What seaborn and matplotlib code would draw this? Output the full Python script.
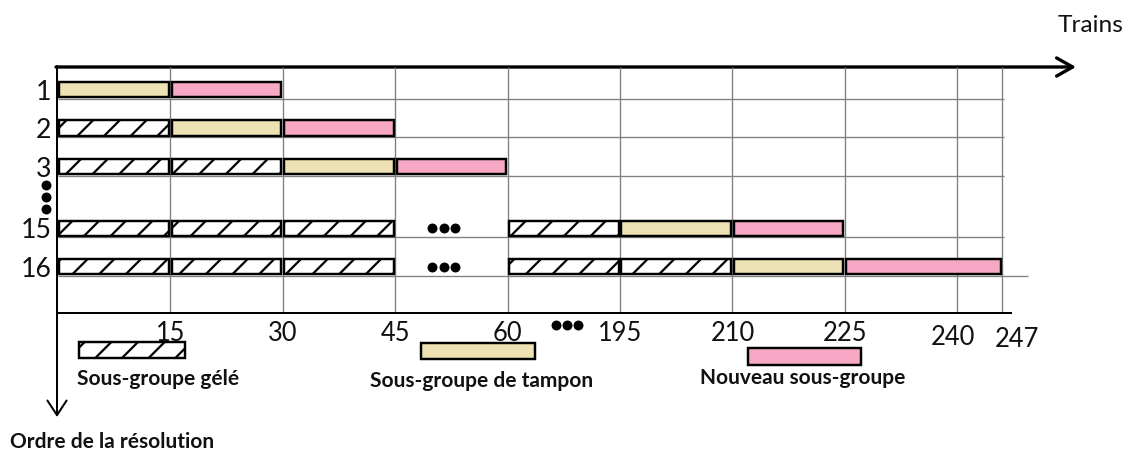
import numpy as np
import matplotlib
matplotlib.use("Agg")
import matplotlib.pyplot as plt
import matplotlib.transforms as mtransforms
from matplotlib.patches import Rectangle
import seaborn as sns

# ---------------- data ----------------
row_labels = [1, 2, 3, 15, 16]
seg_row = [1, 1,
           2, 2, 2,
           3, 3, 3, 3,
           15, 15, 15, 15, 15, 15,
           16, 16, 16, 16, 16, 16, 16]
seg_start = [0, 15,
             0, 15, 30,
             0, 15, 30, 45,
             0, 15, 30, 180, 195, 210,
             0, 15, 30, 180, 195, 210, 225]
seg_end = [15, 30,
           15, 30, 45,
           15, 30, 45, 60,
           15, 30, 45, 195, 210, 225,
           15, 30, 45, 195, 210, 225, 247]
seg_type = ["tampon", "nouveau",
            "gele", "tampon", "nouveau",
            "gele", "gele", "tampon", "nouveau",
            "gele", "gele", "gele", "gele", "tampon", "nouveau",
            "gele", "gele", "gele", "gele", "gele", "tampon", "nouveau"]
tick_values = [15, 30, 45, 60, 195, 210, 225, 240, 247]
type_order = ["gele", "tampon", "nouveau"]
type_labels = ["Sous-groupe gélé", "Sous-groupe de tampon", "Nouveau sous-groupe"]
x_title = "Trains"
y_title = "Ordre de la résolution"

# ---------------- style ----------------
W, H, DPI = 1133, 452, 160
sns.set_theme(style="white")
plt.rcParams["font.family"] = ["Lato", "DejaVu Sans"]
plt.rcParams["hatch.linewidth"] = 1.0

type_colors = {"gele": "white", "tampon": "#EEE2B4", "nouveau": "#F7A8C5"}
type_hatch = {"gele": "//", "tampon": None, "nouveau": None}
grid_col = "#808080"

# broken train axis: 60 .. 180 collapsed into one tick slot
def slot(t):
    return np.interp(np.asarray(t, dtype=float), [0, 60, 180, 240, 247], [0, 4, 4, 8, 8.4])

def row_pos(r):
    i = row_labels.index(r)
    return i + (0.6 if r > 3 else 0.0)

fig = plt.figure(figsize=(W / DPI, H / DPI), dpi=DPI, facecolor="white")

# overlay in pixel coordinates for annotations / legend
ov = fig.add_axes([0, 0, 1, 1], zorder=0)
ov.set_xlim(0, W)
ov.set_ylim(H, 0)
ov.set_axis_off()

# main chart area
px_left, px_right, px_top, px_bottom = 58, 1075, 67, 313
slot_px = 112.4
row_px = 38.5
row0_px = 89.5
ax = fig.add_axes([px_left / W, (H - px_bottom) / H, (px_right - px_left) / W, (px_bottom - px_top) / H], zorder=1)
ax.set_facecolor("none")
ax.set_xlim(0, (px_right - px_left) / slot_px)
ybot = (px_bottom - row0_px) / row_px
ytop = (px_top - row0_px) / row_px
ax.set_ylim(ybot, ytop)
for s in ax.spines.values():
    s.set_visible(False)

# grid
tick_slots = slot(tick_values)
ax.vlines(tick_slots, ybot, ytop, color=grid_col, lw=0.6, zorder=0)
ypos = np.array([row_pos(r) for r in row_labels])
for k, y in enumerate(ypos):
    xmax = slot(247) + (0.23 if k == len(ypos) - 1 else 0.02)
    ax.hlines(y + 0.24, 0, xmax, color=grid_col, lw=0.6, zorder=0)
ax.hlines(ybot, 0, slot(247) + 0.09, color="black", lw=0.9, zorder=3, clip_on=False)

# bars
inset = 0.013
bh = 0.39
seg_start_a = slot(seg_start)
seg_end_a = slot(seg_end)
seg_y = np.array([row_pos(r) for r in seg_row])
seg_type_a = np.array(seg_type)
for t in type_order:
    m = seg_type_a == t
    ax.barh(seg_y[m], seg_end_a[m] - seg_start_a[m] - 2 * inset, left=seg_start_a[m] + inset,
            height=bh, color=type_colors[t], edgecolor="black", linewidth=1.1,
            hatch=type_hatch[t], zorder=2)

# ellipsis dots (skipped rows / skipped trains)
dot_x = [3.33, 3.43, 3.53, 3.33, 3.43, 3.53, -0.107, -0.107, -0.107, 4.43, 4.53, 4.63]
dot_y = [row_pos(15), row_pos(15), row_pos(15), row_pos(16), row_pos(16), row_pos(16),
         2.48, 2.79, 3.10, 6.12, 6.12, 6.12]
sns.scatterplot(x=dot_x, y=dot_y, ax=ax, color="black", s=20, linewidth=0,
                legend=False, clip_on=False, zorder=4)

# ticks
ax.set_xticks(tick_slots)
ax.set_xticklabels([str(v) for v in tick_values], fontsize=11.5, color="#111111")
ax.set_yticks(ypos)
ax.set_yticklabels([str(r) for r in row_labels], fontsize=12, color="#111111")
ax.tick_params(axis="x", length=0, pad=3.5)
ax.tick_params(axis="y", length=0, pad=3.0)
ax.grid(False)
xlabs = ax.get_xticklabels()
shift = {"240": (-4, -4), "247": (15, -6)}
for lab in xlabs:
    if lab.get_text() in shift:
        dx, dy = shift[lab.get_text()]
        lab.set_transform(lab.get_transform() + mtransforms.ScaledTranslation(dx / DPI, dy / DPI, fig.dpi_scale_trans))

# axis arrows
ov.annotate("", xy=(1076, 67), xytext=(56, 67),
            arrowprops=dict(arrowstyle="->,head_length=0.6,head_width=0.34", lw=1.5,
                            color="black", shrinkA=0, shrinkB=0))
ov.annotate("", xy=(57, 417), xytext=(57, 66),
            arrowprops=dict(arrowstyle="->,head_length=0.55,head_width=0.36", lw=0.9,
                            color="black", shrinkA=0, shrinkB=0))
ov.text(1058, 32, x_title, fontsize=11, ha="left", va="baseline", color="#111111")
ov.text(10, 448, y_title, fontsize=9.4, fontweight="bold", ha="left", va="baseline", color="#111111")

# legend
leg_boxes = {"gele": (79, 342, 106, 16), "tampon": (421, 343, 114, 16), "nouveau": (748, 348, 113, 17)}
leg_text = {"gele": (77, 385), "tampon": (370, 387), "nouveau": (700, 384)}
for t, lab in zip(type_order, type_labels):
    x0, y0, w, h = leg_boxes[t]
    ov.add_patch(Rectangle((x0, y0), w, h, facecolor=type_colors[t], edgecolor="black",
                           linewidth=1.1, hatch=type_hatch[t]))
    tx, ty = leg_text[t]
    ov.text(tx, ty, lab, fontsize=9.4, fontweight="bold", ha="left", va="baseline", color="#111111")

fig.savefig("out.png", dpi=DPI, facecolor="white")
